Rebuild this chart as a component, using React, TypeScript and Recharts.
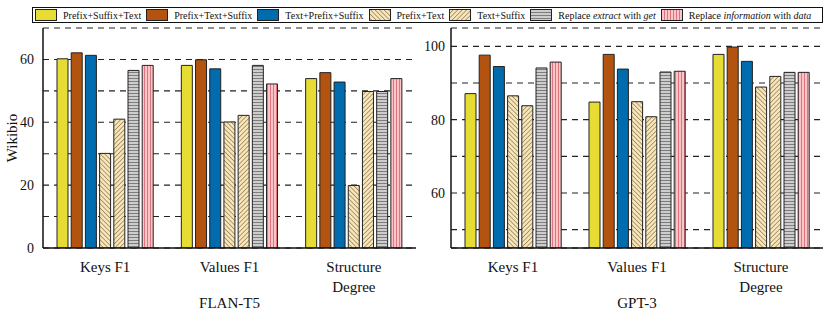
import React from 'react';
import { BarChart, Bar, XAxis, YAxis, CartesianGrid } from 'recharts';

const categories = ['Keys F1', 'Values F1', 'Structure\nDegree'];

// FLAN-T5 scores
const flanPrefixSuffixText = [60.2, 58.1, 53.9];
const flanPrefixTextSuffix = [62.1, 59.9, 55.8];
const flanTextPrefixSuffix = [61.3, 57.0, 52.8];
const flanPrefixText = [30.1, 40.1, 19.9];
const flanTextSuffix = [41.0, 42.2, 49.8];
const flanExtractGet = [56.5, 58.1, 49.8];
const flanInfoData = [58.1, 52.2, 53.9];

// GPT-3 scores
const gptPrefixSuffixText = [87.1, 84.8, 97.8];
const gptPrefixTextSuffix = [97.6, 97.8, 99.8];
const gptTextPrefixSuffix = [94.5, 93.8, 95.9];
const gptPrefixText = [86.5, 84.9, 88.9];
const gptTextSuffix = [83.8, 80.8, 91.8];
const gptExtractGet = [94.1, 93.0, 92.9];
const gptInfoData = [95.7, 93.2, 92.9];

const flanTicks = [0, 10, 20, 30, 40, 50, 60];
const gptTicks = [50, 60, 70, 80, 90, 100];

const FONT = 'Liberation Serif, Tinos, DejaVu Serif, Noto Serif, Times New Roman, Times, serif';

const seriesKeys = ['pst', 'pts', 'tps', 'pt', 'ts', 'eg', 'id'];
const seriesFill: Record<string, string> = {
  pst: '#e6dc33',
  pts: '#b2540f',
  tps: '#006bad',
  pt: 'url(#hatchBack)',
  ts: 'url(#hatchFwd)',
  eg: 'url(#hatchHoriz)',
  id: 'url(#hatchVert)',
};

const buildRows = (cols: number[][]) =>
  categories.map((cat, i) => {
    const row: Record<string, string | number> = { cat };
    seriesKeys.forEach((k, j) => (row[k] = cols[j][i]));
    return row;
  });

const flanData = buildRows([
  flanPrefixSuffixText, flanPrefixTextSuffix, flanTextPrefixSuffix,
  flanPrefixText, flanTextSuffix, flanExtractGet, flanInfoData,
]);
const gptData = buildRows([
  gptPrefixSuffixText, gptPrefixTextSuffix, gptTextPrefixSuffix,
  gptPrefixText, gptTextSuffix, gptExtractGet, gptInfoData,
]);

const CatTick = (props: any) => {
  const { x, y, payload } = props;
  const lines = String(payload.value).split('\n');
  return (
    <text x={x} y={y} textAnchor="middle" fontFamily={FONT} fontSize={15} fill="#111">
      {lines.map((l, i) => (
        <tspan key={i} x={x} dy={i === 0 ? 22 : 20}>{l}</tspan>
      ))}
    </text>
  );
};

const Patterns = () => (
  <svg width={0} height={0} style={{ position: 'absolute' }}>
    <defs>
      <pattern id="hatchBack" width={3.2} height={3.2} patternUnits="userSpaceOnUse" patternTransform="rotate(-45)">
        <rect width={3.2} height={3.2} fill="#f7e6b9" />
        <line x1={0} y1={0} x2={0} y2={3.2} stroke="#6e5028" strokeWidth={1} />
      </pattern>
      <pattern id="hatchFwd" width={3.2} height={3.2} patternUnits="userSpaceOnUse" patternTransform="rotate(45)">
        <rect width={3.2} height={3.2} fill="#f7e6b9" />
        <line x1={0} y1={0} x2={0} y2={3.2} stroke="#6e5028" strokeWidth={1} />
      </pattern>
      <pattern id="hatchHoriz" width={3} height={3} patternUnits="userSpaceOnUse">
        <rect width={3} height={3} fill="#cdcdcd" />
        <line x1={0} y1={0.5} x2={3} y2={0.5} stroke="#7d7d7d" strokeWidth={1} />
      </pattern>
      <pattern id="hatchVert" width={3} height={3} patternUnits="userSpaceOnUse">
        <rect width={3} height={3} fill="#fac4c8" />
        <line x1={0.5} y1={0} x2={0.5} y2={3} stroke="#e0767d" strokeWidth={1} />
      </pattern>
    </defs>
  </svg>
);

type PanelProps = {
  data: Record<string, string | number>[];
  domain: [number, number];
  ticks: number[];
  labelTicks: number[];
  title: string;
  width: number;
  yWidth: number;
  rightMargin: number;
  tickGap: number;
};

const Panel = ({ data, domain, ticks, labelTicks, title, width, yWidth, rightMargin, tickGap }: PanelProps) => (
  <BarChart
    width={width}
    height={314}
    data={data}
    margin={{ top: 28, right: rightMargin, left: 0, bottom: 0 }}
    barSize={11}
    barGap={3.2}
  >
    <CartesianGrid horizontal vertical={false} stroke="#222" strokeDasharray="6 5" strokeWidth={1.1} />
    <XAxis
      dataKey="cat"
      interval={0}
      height={66}
      tickLine={false}
      tickSize={0}
      tick={<CatTick />}
      axisLine={{ stroke: '#111', strokeWidth: 1.5 }}
      label={{ value: title, position: 'insideBottom', offset: 6, fontFamily: FONT, fontSize: 15, fill: '#111' }}
    />
    <XAxis xAxisId="top" dataKey="cat" orientation="top" height={0} tick={false} tickLine={false}
      axisLine={{ stroke: '#111', strokeWidth: 1.5 }} />
    <YAxis
      type="number"
      domain={domain}
      ticks={ticks}
      width={yWidth}
      allowDataOverflow
      tickLine={false}
      tickSize={0}
      tickMargin={tickGap}
      tickFormatter={(v: number) => (labelTicks.includes(v) ? String(v) : '')}
      tick={{ fontFamily: FONT, fontSize: 14, fill: '#111' }}
      axisLine={{ stroke: '#111', strokeWidth: 1.5 }}
    />
    <YAxis yAxisId="inL" type="number" domain={domain} ticks={ticks} width={0} mirror tick={false}
      tickSize={4} tickLine={{ stroke: '#111' }} axisLine={false} allowDataOverflow />
    <YAxis yAxisId="inR" orientation="right" type="number" domain={domain} ticks={ticks} width={0} mirror
      tick={false} tickSize={4} tickLine={{ stroke: '#111' }} axisLine={{ stroke: '#111', strokeWidth: 1.5 }}
      allowDataOverflow />
    {seriesKeys.map((k) => (
      <Bar key={k} dataKey={k} fill={seriesFill[k]} stroke="#222" strokeWidth={1} isAnimationActive={false} />
    ))}
  </BarChart>
);

const legendItems: { key: string; label: React.ReactNode }[] = [
  { key: 'pst', label: 'Prefix+Suffix+Text' },
  { key: 'pts', label: 'Prefix+Text+Suffix' },
  { key: 'tps', label: 'Text+Prefix+Suffix' },
  { key: 'pt', label: 'Prefix+Text' },
  { key: 'ts', label: 'Text+Suffix' },
  { key: 'eg', label: <>Replace <i>extract</i> with <i>get</i></> },
  { key: 'id', label: <>Replace <i>information</i> with <i>data</i></> },
];

const LegendBox = () => (
  <div
    style={{
      position: 'absolute', left: 32, top: 7, width: 791, height: 16, boxSizing: 'border-box',
      border: '1.5px solid #111', display: 'flex', alignItems: 'center', paddingLeft: 2,
      fontFamily: FONT, fontSize: 10, color: '#111', whiteSpace: 'nowrap',
    }}
  >
    {legendItems.map((it) => (
      <div key={it.key} style={{ display: 'flex', alignItems: 'center', marginRight: 5 }}>
        <svg width={22} height={12} style={{ marginRight: 6 }}>
          <rect x={0.5} y={0.5} width={21} height={11} fill={seriesFill[it.key]} stroke="#222" strokeWidth={1} />
        </svg>
        <span>{it.label}</span>
      </div>
    ))}
  </div>
);

export default function App() {
  return (
    <div style={{ position: 'absolute', left: 0, top: 0, width: 831, height: 314, background: '#fff', overflow: 'hidden', fontFamily: FONT }}>
      <Patterns />
      <div style={{ position: 'absolute', left: 0, top: 0 }}>
        <Panel data={flanData} domain={[0, 70]} ticks={flanTicks} labelTicks={[0, 20, 40, 60]} title="FLAN-T5"
          width={420} yWidth={43} rightMargin={4} tickGap={9} />
      </div>
      <div style={{ position: 'absolute', left: 420, top: 0 }}>
        <Panel data={gptData} domain={[45, 105]} ticks={gptTicks} labelTicks={[60, 80, 100]} title="GPT-3"
          width={411} yWidth={31} rightMargin={8} tickGap={6} />
      </div>
      <svg width={24} height={314} style={{ position: 'absolute', left: 0, top: 0 }}>
        <text transform="translate(17,138) rotate(-90)" textAnchor="middle" fontFamily={FONT} fontSize={15} fill="#111">
          Wikibio
        </text>
      </svg>
      <LegendBox />
    </div>
  );
}
